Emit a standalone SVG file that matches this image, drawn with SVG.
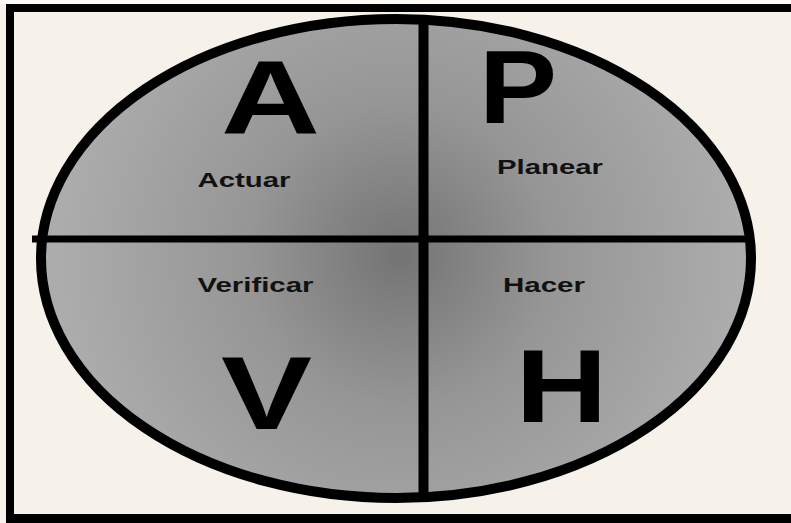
<svg xmlns="http://www.w3.org/2000/svg" width="791" height="523" viewBox="0 0 791 523">
<defs>
<radialGradient id="g" gradientUnits="userSpaceOnUse" cx="400" cy="255" r="340">
<stop offset="0" stop-color="#747474"/>
<stop offset="0.45" stop-color="#969696"/>
<stop offset="1" stop-color="#acacac"/>
</radialGradient>
<style>
.big{font-family:"Liberation Sans",Arial,sans-serif;font-weight:bold;font-size:104px;fill:#000;text-anchor:middle}
.lbl{font-family:"Liberation Sans",Arial,sans-serif;font-weight:bold;font-size:21px;fill:#111;text-anchor:middle}
.ln{stroke:#000;fill:none}
</style>
</defs>
<rect x="0" y="0" width="791" height="523" fill="#f6f2ea"/>
<rect x="0" y="0" width="791" height="4" fill="#fbfaf7"/>
<rect x="6" y="4" width="785" height="8" fill="#000"/>
<rect x="6" y="4" width="8" height="519" fill="#000"/>
<rect x="6" y="514" width="785" height="9" fill="#000"/>
<ellipse id="circle" cx="396" cy="258.5" rx="355" ry="239.5" fill="url(#g)" stroke="#000" stroke-width="10"/>
<g id="connectors">
<line class="ln" x1="423.5" y1="19" x2="423.5" y2="498" stroke-width="10"/>
<line class="ln" x1="32" y1="239" x2="746" y2="239" stroke-width="7"/>
</g>
<g id="actuar">
<text class="big" x="270.5" y="133" textLength="99" lengthAdjust="spacingAndGlyphs">A</text>
<text class="lbl" x="244" y="187" textLength="93" lengthAdjust="spacingAndGlyphs">Actuar</text>
</g>
<g id="planear">
<text class="big" x="518" y="123" textLength="78" lengthAdjust="spacingAndGlyphs">P</text>
<text class="lbl" x="550" y="174" textLength="106" lengthAdjust="spacingAndGlyphs">Planear</text>
</g>
<g id="verificar">
<text class="big" x="266.5" y="429" textLength="91" lengthAdjust="spacingAndGlyphs">V</text>
<text class="lbl" x="255.5" y="292" textLength="116" lengthAdjust="spacingAndGlyphs">Verificar</text>
</g>
<g id="hacer">
<text class="big" x="561.5" y="422" textLength="92" lengthAdjust="spacingAndGlyphs">H</text>
<text class="lbl" x="544" y="292" textLength="82" lengthAdjust="spacingAndGlyphs">Hacer</text>
</g>
</svg>
